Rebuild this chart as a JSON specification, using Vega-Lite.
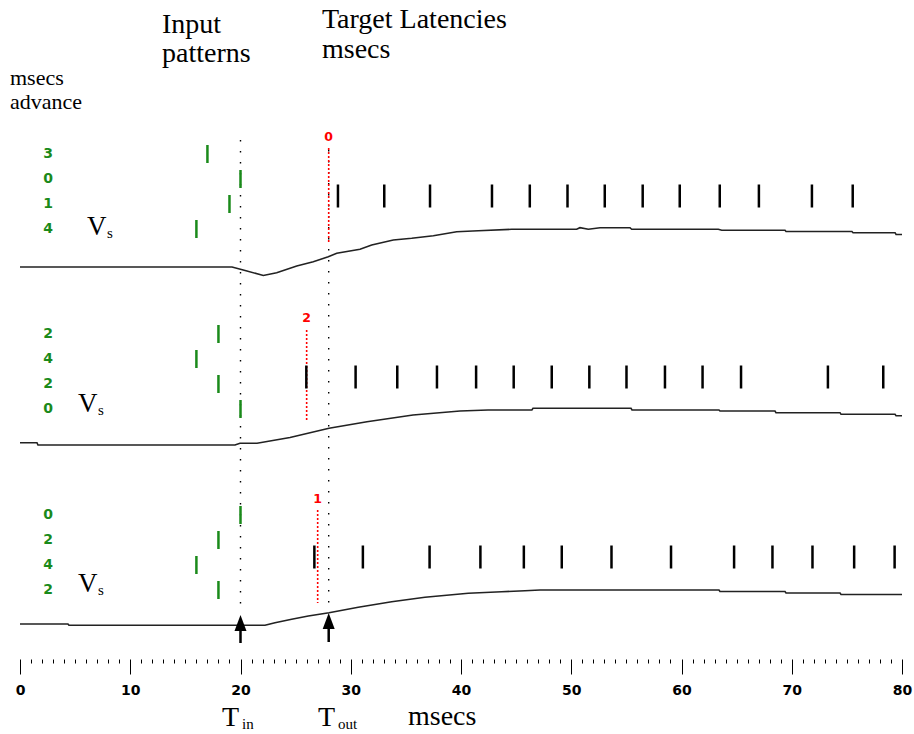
{
  "$schema": "https://vega.github.io/schema/vega-lite/v6.json",
  "width": 882,
  "height": 734,
  "autosize": {"type": "none"},
  "padding": {"left": 20, "right": 12, "top": 0, "bottom": 0},
  "background": "white",
  "config": {"view": {"stroke": null}},
  "datasets": {
    "curve": [
      {"p": 1, "t": 0, "y": 267}, {"p": 1, "t": 19.23, "y": 267}, {"p": 1, "t": 20.25, "y": 270}, {"p": 1, "t": 22.07, "y": 275.5}, {"p": 1, "t": 23.28, "y": 272.7}, {"p": 1, "t": 25.1, "y": 266}, {"p": 1, "t": 26.6, "y": 261.7}, {"p": 1, "t": 27.96, "y": 256.7}, {"p": 1, "t": 28.73, "y": 253.3}, {"p": 1, "t": 30.84, "y": 249.3}, {"p": 1, "t": 31.9, "y": 245}, {"p": 1, "t": 33.86, "y": 240}, {"p": 1, "t": 35.53, "y": 238.3}, {"p": 1, "t": 37.49, "y": 235.7}, {"p": 1, "t": 39.61, "y": 231.7}, {"p": 1, "t": 41.57, "y": 230.7}, {"p": 1, "t": 44.6, "y": 229.3}, {"p": 1, "t": 50.49, "y": 229.3}, {"p": 1, "t": 50.79, "y": 227.7}, {"p": 1, "t": 51.55, "y": 229.3}, {"p": 1, "t": 52.61, "y": 227.7}, {"p": 1, "t": 55.33, "y": 227.7}, {"p": 1, "t": 55.48, "y": 229.3}, {"p": 1, "t": 63.34, "y": 229.3}, {"p": 1, "t": 63.65, "y": 230.3}, {"p": 1, "t": 69.39, "y": 230.3}, {"p": 1, "t": 69.48, "y": 231.5}, {"p": 1, "t": 75.46, "y": 231.5}, {"p": 1, "t": 75.56, "y": 232.7}, {"p": 1, "t": 79.37, "y": 232.7}, {"p": 1, "t": 79.46, "y": 234.5}, {"p": 1, "t": 80, "y": 234.5},
      {"p": 2, "t": 0, "y": 442.7}, {"p": 2, "t": 1.54, "y": 442.7}, {"p": 2, "t": 1.63, "y": 445}, {"p": 2, "t": 19.5, "y": 445}, {"p": 2, "t": 19.95, "y": 443.3}, {"p": 2, "t": 21.5, "y": 443.3}, {"p": 2, "t": 24.49, "y": 437.5}, {"p": 2, "t": 28.03, "y": 428.3}, {"p": 2, "t": 31.47, "y": 421.7}, {"p": 2, "t": 35.65, "y": 415}, {"p": 2, "t": 39.91, "y": 411}, {"p": 2, "t": 42.45, "y": 410}, {"p": 2, "t": 46.43, "y": 410}, {"p": 2, "t": 46.53, "y": 408.3}, {"p": 2, "t": 55.42, "y": 408.3}, {"p": 2, "t": 55.51, "y": 410}, {"p": 2, "t": 63.4, "y": 410}, {"p": 2, "t": 63.49, "y": 411}, {"p": 2, "t": 68.48, "y": 411}, {"p": 2, "t": 68.57, "y": 412.7}, {"p": 2, "t": 74.38, "y": 412.7}, {"p": 2, "t": 74.47, "y": 414.3}, {"p": 2, "t": 79.37, "y": 414.3}, {"p": 2, "t": 79.46, "y": 415.7}, {"p": 2, "t": 80, "y": 415.7},
      {"p": 3, "t": 0, "y": 624}, {"p": 3, "t": 4.35, "y": 624}, {"p": 3, "t": 4.44, "y": 625.3}, {"p": 3, "t": 22.22, "y": 625.3}, {"p": 3, "t": 23.13, "y": 622.7}, {"p": 3, "t": 24.64, "y": 619.3}, {"p": 3, "t": 26.15, "y": 616}, {"p": 3, "t": 28.03, "y": 612.7}, {"p": 3, "t": 30.68, "y": 607.3}, {"p": 3, "t": 33.71, "y": 601.7}, {"p": 3, "t": 36.73, "y": 597.3}, {"p": 3, "t": 40.66, "y": 593.3}, {"p": 3, "t": 43.69, "y": 591.7}, {"p": 3, "t": 45.8, "y": 590.7}, {"p": 3, "t": 47.17, "y": 590}, {"p": 3, "t": 63.4, "y": 590}, {"p": 3, "t": 63.49, "y": 591.5}, {"p": 3, "t": 69.39, "y": 591.5}, {"p": 3, "t": 69.48, "y": 593}, {"p": 3, "t": 74.38, "y": 593}, {"p": 3, "t": 74.47, "y": 594.5}, {"p": 3, "t": 80, "y": 594.5}
    ],
    "inputs": [
      {"p": 1, "adv": "3", "t": 17, "y": 154}, {"p": 1, "adv": "0", "t": 20, "y": 179}, {"p": 1, "adv": "1", "t": 19, "y": 204}, {"p": 1, "adv": "4", "t": 16, "y": 229},
      {"p": 2, "adv": "2", "t": 18, "y": 334}, {"p": 2, "adv": "4", "t": 16, "y": 359}, {"p": 2, "adv": "2", "t": 18, "y": 384}, {"p": 2, "adv": "0", "t": 20, "y": 409},
      {"p": 3, "adv": "0", "t": 20, "y": 515}, {"p": 3, "adv": "2", "t": 18, "y": 540}, {"p": 3, "adv": "4", "t": 16, "y": 565}, {"p": 3, "adv": "2", "t": 18, "y": 590}
    ],
    "outputs": [
      {"p": 1, "t": 28.84, "y": 196}, {"p": 1, "t": 33.04, "y": 196}, {"p": 1, "t": 37.19, "y": 196}, {"p": 1, "t": 42.81, "y": 196}, {"p": 1, "t": 46.24, "y": 196}, {"p": 1, "t": 49.66, "y": 196}, {"p": 1, "t": 53.04, "y": 196}, {"p": 1, "t": 56.48, "y": 196}, {"p": 1, "t": 59.84, "y": 196}, {"p": 1, "t": 63.47, "y": 196}, {"p": 1, "t": 67.02, "y": 196}, {"p": 1, "t": 71.83, "y": 196}, {"p": 1, "t": 75.53, "y": 196},
      {"p": 2, "t": 25.97, "y": 377}, {"p": 2, "t": 30.44, "y": 377}, {"p": 2, "t": 34.22, "y": 377}, {"p": 2, "t": 37.82, "y": 377}, {"p": 2, "t": 41.37, "y": 377}, {"p": 2, "t": 44.78, "y": 377}, {"p": 2, "t": 48.23, "y": 377}, {"p": 2, "t": 51.64, "y": 377}, {"p": 2, "t": 55.01, "y": 377}, {"p": 2, "t": 58.5, "y": 377}, {"p": 2, "t": 61.91, "y": 377}, {"p": 2, "t": 65.4, "y": 377}, {"p": 2, "t": 73.28, "y": 377}, {"p": 2, "t": 78.3, "y": 377},
      {"p": 3, "t": 26.7, "y": 557}, {"p": 3, "t": 31.1, "y": 557}, {"p": 3, "t": 37.15, "y": 557}, {"p": 3, "t": 41.76, "y": 557}, {"p": 3, "t": 45.7, "y": 557}, {"p": 3, "t": 49.14, "y": 557}, {"p": 3, "t": 53.65, "y": 557}, {"p": 3, "t": 59.05, "y": 557}, {"p": 3, "t": 64.77, "y": 557}, {"p": 3, "t": 68.25, "y": 557}, {"p": 3, "t": 71.88, "y": 557}, {"p": 3, "t": 75.66, "y": 557}, {"p": 3, "t": 79.33, "y": 557}
    ],
    "targets": [
      {"p": 1, "lat": "0", "t": 28, "y": 148, "y2": 242, "ylab": 137},
      {"p": 2, "lat": "2", "t": 26, "y": 330, "y2": 422, "ylab": 318},
      {"p": 3, "lat": "1", "t": 27, "y": 510, "y2": 603, "ylab": 499}
    ],
    "guides": [
      {"t": 20, "y": 140, "y2": 613},
      {"t": 28, "y": 150, "y2": 610}
    ],
    "arrows": [
      {"t": 20, "y": 628, "y2": 643, "head": 623},
      {"t": 28, "y": 626, "y2": 642, "head": 621}
    ],
    "bigText": [
      {"text": "Input", "t": 12.88, "y": 33},
      {"text": "patterns", "t": 12.88, "y": 62},
      {"text": "Target Latencies", "t": 27.39, "y": 28},
      {"text": "msecs", "t": 27.39, "y": 58},
      {"text": "T", "t": 18.32, "y": 726},
      {"text": "T", "t": 27.03, "y": 726},
      {"text": "msecs", "t": 35.19, "y": 725}
    ],
    "subText": [
      {"text": "in", "t": 20.14, "y": 729},
      {"text": "out", "t": 28.84, "y": 729}
    ],
    "smallText": [
      {"text": "msecs", "t": -0.91, "y": 85},
      {"text": "advance", "t": -0.91, "y": 109}
    ],
    "vText": [
      {"text": "V", "t": 6.08, "y": 235},
      {"text": "V", "t": 5.26, "y": 412},
      {"text": "V", "t": 5.26, "y": 592}
    ],
    "vSub": [
      {"text": "s", "t": 7.89, "y": 238},
      {"text": "s", "t": 7.07, "y": 415},
      {"text": "s", "t": 7.07, "y": 595}
    ]
  },
  "encoding": {
    "x": {
      "field": "t", "type": "quantitative",
      "scale": {"domain": [0, 80], "nice": false, "zero": false},
      "axis": {
        "orient": "bottom",
        "offset": -75,
        "values": [0,1,2,3,4,5,6,7,8,9,10,11,12,13,14,15,16,17,18,19,20,21,22,23,24,25,26,27,28,29,30,31,32,33,34,35,36,37,38,39,40,41,42,43,44,45,46,47,48,49,50,51,52,53,54,55,56,57,58,59,60,61,62,63,64,65,66,67,68,69,70,71,72,73,74,75,76,77,78,79,80],
        "domain": false,
        "grid": false,
        "title": null,
        "tickColor": "black",
        "tickWidth": 1,
        "tickSize": {"condition": {"test": "datum.value % 10 === 0", "value": 15}, "value": 4},
        "labelExpr": "datum.value % 10 === 0 ? datum.label : ''",
        "labelFont": "DejaVu Sans",
        "labelFontWeight": "bold",
        "labelFontSize": 14,
        "labelColor": "black",
        "labelPadding": 9,
        "labelOverlap": false,
        "labelFlush": false,
        "labelBound": false
      }
    },
    "y": {
      "field": "y", "type": "quantitative",
      "scale": {"domain": [734, 0], "nice": false, "zero": false},
      "axis": null
    }
  },
  "layer": [
    {
      "data": {"name": "guides"},
      "mark": {"type": "rule", "color": "black", "strokeWidth": 1.4, "strokeDash": [1.5, 9.5]},
      "encoding": {"y2": {"field": "y2"}}
    },
    {
      "data": {"name": "curve"},
      "mark": {"type": "line", "color": "#222222", "strokeWidth": 1.6, "interpolate": "linear"},
      "encoding": {"detail": {"field": "p"}}
    },
    {
      "data": {"name": "targets"},
      "mark": {"type": "rule", "color": "#ff0000", "strokeWidth": 1.6, "strokeDash": [2, 2]},
      "encoding": {"y2": {"field": "y2"}}
    },
    {
      "data": {"name": "targets"},
      "mark": {"type": "text", "color": "#ff0000", "font": "DejaVu Sans", "fontWeight": "bold", "fontSize": 12.5, "align": "center", "baseline": "middle"},
      "encoding": {"y": {"field": "ylab", "type": "quantitative"}, "text": {"field": "lat"}}
    },
    {
      "data": {"name": "inputs"},
      "mark": {"type": "tick", "orient": "vertical", "size": 18, "thickness": 2.5, "color": "#1a8a1a", "opacity": 1}
    },
    {
      "data": {"name": "inputs"},
      "mark": {"type": "text", "color": "#1a8a1a", "font": "DejaVu Sans", "fontWeight": "bold", "fontSize": 14, "align": "center", "baseline": "middle"},
      "encoding": {"x": {"datum": 2.54, "type": "quantitative"}, "text": {"field": "adv"}}
    },
    {
      "data": {"name": "outputs"},
      "mark": {"type": "tick", "orient": "vertical", "size": 23, "thickness": 2.5, "color": "black", "opacity": 1}
    },
    {
      "data": {"name": "arrows"},
      "mark": {"type": "rule", "color": "black", "strokeWidth": 2.5},
      "encoding": {"y2": {"field": "y2"}}
    },
    {
      "data": {"name": "arrows"},
      "mark": {"type": "point", "shape": "M0,-1L0.75,1L-0.75,1Z", "size": 256, "filled": true, "color": "black", "opacity": 1, "strokeWidth": 0},
      "encoding": {"y": {"field": "head", "type": "quantitative"}}
    },
    {
      "data": {"name": "bigText"},
      "mark": {"type": "text", "font": "Liberation Serif", "fontSize": 28, "color": "black", "align": "left", "baseline": "alphabetic"},
      "encoding": {"text": {"field": "text"}}
    },
    {
      "data": {"name": "subText"},
      "mark": {"type": "text", "font": "Liberation Serif", "fontSize": 15, "color": "black", "align": "left", "baseline": "alphabetic"},
      "encoding": {"text": {"field": "text"}}
    },
    {
      "data": {"name": "smallText"},
      "mark": {"type": "text", "font": "Liberation Serif", "fontSize": 22, "color": "black", "align": "left", "baseline": "alphabetic"},
      "encoding": {"text": {"field": "text"}}
    },
    {
      "data": {"name": "vText"},
      "mark": {"type": "text", "font": "Liberation Serif", "fontSize": 27, "color": "black", "align": "left", "baseline": "alphabetic"},
      "encoding": {"text": {"field": "text"}}
    },
    {
      "data": {"name": "vSub"},
      "mark": {"type": "text", "font": "Liberation Serif", "fontSize": 15, "color": "black", "align": "left", "baseline": "alphabetic"},
      "encoding": {"text": {"field": "text"}}
    }
  ]
}
